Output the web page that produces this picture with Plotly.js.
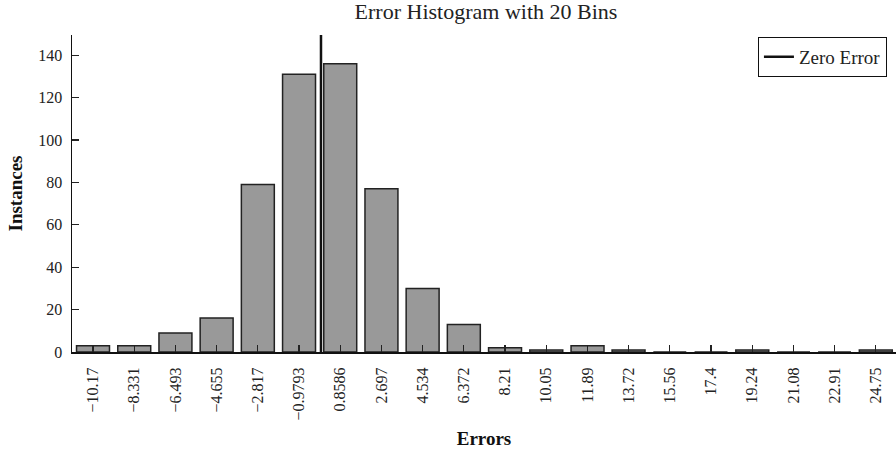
<!DOCTYPE html>
<html>
<head>
<meta charset="utf-8">
<script src="https://cdn.plot.ly/plotly-3.0.1.min.js"></script>
<style>
  html, body { margin: 0; padding: 0; background: #fff; }
  #chart { width: 896px; height: 450px; }
</style>
</head>
<body>
<div id="chart"></div>
<script>
// Bin centres of the error histogram (20 bins)
const binCenters = [-10.17, -8.331, -6.493, -4.655, -2.817, -0.9793, 0.8586, 2.697, 4.534, 6.372,
                    8.21, 10.05, 11.89, 13.72, 15.56, 17.4, 19.24, 21.08, 22.91, 24.75];
// Tick labels as printed under each bin
const binLabels = ['\u221210.17', '\u22128.331', '\u22126.493', '\u22124.655', '\u22122.817', '\u22120.9793',
                   '0.8586', '2.697', '4.534', '6.372', '8.21', '10.05', '11.89', '13.72', '15.56',
                   '17.4', '19.24', '21.08', '22.91', '24.75'];
// Number of instances in each bin
const instances = [3, 3, 9, 16, 79, 131, 136, 77, 30, 13, 2, 1, 3, 1, 0, 0, 1, 0, 0, 1];
// Zero-error reference line
const zeroX = [0, 0];
const zeroY = [0, 149.5];

const binWidth = (binCenters[binCenters.length - 1] - binCenters[0]) / (binCenters.length - 1);

const serif = 'Liberation Serif, Times New Roman, serif';

const traces = [
  {
    type: 'bar',
    x: binCenters,
    y: instances,
    width: 0.8 * binWidth,
    marker: { color: '#999999', line: { color: '#222222', width: 1.5 } },
    showlegend: false,
    hoverinfo: 'x+y'
  },
  {
    type: 'scatter',
    mode: 'lines',
    x: zeroX,
    y: zeroY,
    name: 'Zero Error',
    line: { color: '#111111', width: 2.5 }
  }
];

const layout = {
  width: 896,
  height: 450,
  margin: { l: 72, r: 0, t: 35, b: 98 },
  paper_bgcolor: '#ffffff',
  plot_bgcolor: '#ffffff',
  font: { family: serif, size: 16, color: '#222222' },
  title: {
    text: 'Error Histogram with 20 Bins',
    x: 0.5424, xanchor: 'center', y: 0.992, yanchor: 'top',
    font: { family: serif, size: 22, color: '#222222' }
  },
  bargap: 0,
  xaxis: {
    range: [binCenters[0] - 0.51 * binWidth, binCenters[binCenters.length - 1] + 0.49 * binWidth],
    tickmode: 'array',
    tickvals: binCenters,
    ticktext: binLabels,
    tickangle: -90,
    ticks: 'inside',
    ticklen: 7,
    tickwidth: 1.2,
    tickcolor: '#222222',
    ticklabelstandoff: 7,
    showline: true,
    linecolor: '#111111',
    linewidth: 2,
    showgrid: false,
    zeroline: false,
    tickfont: { family: serif, size: 16, color: '#222222' },
    title: { text: '<b>Errors</b>', standoff: 12, font: { family: serif, size: 19, color: '#111111' } }
  },
  yaxis: {
    range: [0, 149.5],
    dtick: 20,
    ticks: 'inside',
    ticklen: 7,
    tickwidth: 1.2,
    tickcolor: '#222222',
    ticklabelstandoff: 5,
    showline: true,
    linecolor: '#111111',
    linewidth: 1.5,
    showgrid: false,
    zeroline: false,
    tickfont: { family: serif, size: 16, color: '#222222' },
    title: { text: '<b>Instances</b>', standoff: 10, font: { family: serif, size: 19, color: '#111111' } }
  },
  legend: {
    x: 0.989, xanchor: 'right', y: 0.994, yanchor: 'top',
    bgcolor: '#ffffff',
    bordercolor: '#111111',
    borderwidth: 1,
    font: { family: serif, size: 19, color: '#222222' },
    tracegroupgap: 0,
    itemwidth: 30
  },
  showlegend: true
};

Plotly.newPlot('chart', traces, layout, { displayModeBar: false, staticPlot: true });
</script>
</body>
</html>
